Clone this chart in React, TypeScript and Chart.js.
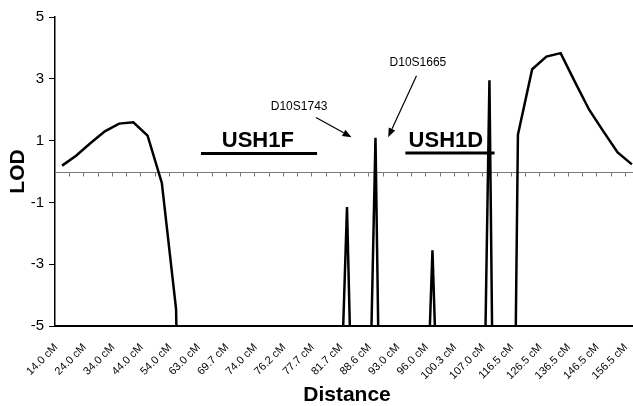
import React, { useEffect, useRef } from "react";
import { Chart, registerables } from "chart.js";

Chart.register(...registerables);

// Category labels (every other position carries a label)
const categories: string[] = [
  "14.0 cM", "", "24.0 cM", "", "34.0 cM", "", "44.0 cM", "", "54.0 cM", "",
  "63.0 cM", "", "69.7 cM", "", "74.0 cM", "", "76.2 cM", "", "77.7 cM", "",
  "81.7 cM", "", "88.6 cM", "", "93.0 cM", "", "96.0 cM", "", "100.3 cM", "",
  "107.0 cM", "", "116.5 cM", "", "126.5 cM", "", "136.5 cM", "", "146.5 cM", "",
  "156.5 cM",
];

// LOD scores (values below -5 are off-scale and clipped)
const lodValues: number[] = [
  0.19, 0.52, 0.92, 1.3, 1.55, 1.59, 1.16, -0.37, -4.45, -30,
  -20, -20, -20, -20, -20, -20, -20, -20, -20, -15.6,
  -1.15, -20.6, 1.09, -31, -20, -16, -2.55, -17, -20, -26,
  2.95, -40, 1.19, 3.31, 3.72, 3.83, 2.9, 2.0, 1.3, 0.62,
  0.23,
];

const yMin = -5;
const yMax = 5;
const yStep = 2;

// Region annotations (category index / LOD coordinates)
const regionNames = ["USH1F", "USH1D"];
const regionFrom = [9.75, 24.1];
const regionTo = [17.9, 30.36];
const regionBarLod = [0.58, 0.6];
const regionTextAt = [13.74, 26.94];
const regionTextLod = [0.78, 0.78];

// Marker annotations
const markerNames = ["D10S1743", "D10S1665"];
const markerTextAt = [16.64, 24.98];
const markerTextLod = [2.0, 3.4];
const arrowFromAt = [17.82, 24.88];
const arrowFromLod = [1.75, 3.1];
const arrowToAt = [20.32, 22.89];
const arrowToLod = [1.11, 1.11];

const FONT = "'Liberation Sans', Arial, Helvetica, sans-serif";

const zeroLinePlugin = {
  id: "zeroLine",
  beforeDatasetsDraw(chart: any) {
    const { ctx, chartArea, scales } = chart;
    const x = scales.x;
    const y = scales.y;
    const y0 = Math.round(y.getPixelForValue(0)) + 0.5;
    ctx.save();
    ctx.strokeStyle = "#7a7a7a";
    ctx.lineWidth = 1;
    ctx.beginPath();
    ctx.moveTo(chartArea.left, y0);
    ctx.lineTo(chartArea.right, y0);
    for (let i = 0; i <= categories.length; i++) {
      const px = Math.round(x.getPixelForValue(i - 0.5)) + 0.5;
      ctx.moveTo(px, y0);
      ctx.lineTo(px, y0 + 4);
    }
    ctx.stroke();
    ctx.restore();
  },
};

const annotationPlugin = {
  id: "annots",
  afterDatasetsDraw(chart: any) {
    const { ctx, scales } = chart;
    const x = scales.x;
    const y = scales.y;
    ctx.save();
    ctx.fillStyle = "#000";
    ctx.strokeStyle = "#000";
    // regions
    for (let i = 0; i < regionNames.length; i++) {
      const yb = y.getPixelForValue(regionBarLod[i]);
      ctx.lineWidth = 3;
      ctx.beginPath();
      ctx.moveTo(x.getPixelForValue(regionFrom[i]), yb);
      ctx.lineTo(x.getPixelForValue(regionTo[i]), yb);
      ctx.stroke();
      ctx.font = `bold 22px ${FONT}`;
      ctx.textAlign = "center";
      ctx.textBaseline = "alphabetic";
      ctx.fillText(regionNames[i], x.getPixelForValue(regionTextAt[i]), y.getPixelForValue(regionTextLod[i]));
    }
    // markers
    for (let i = 0; i < markerNames.length; i++) {
      ctx.font = `12px ${FONT}`;
      ctx.textAlign = "center";
      ctx.textBaseline = "alphabetic";
      ctx.fillText(markerNames[i], x.getPixelForValue(markerTextAt[i]), y.getPixelForValue(markerTextLod[i]));
      const x1 = x.getPixelForValue(arrowFromAt[i]);
      const y1 = y.getPixelForValue(arrowFromLod[i]);
      const x2 = x.getPixelForValue(arrowToAt[i]);
      const y2 = y.getPixelForValue(arrowToLod[i]);
      const ang = Math.atan2(y2 - y1, x2 - x1);
      const headLen = 9;
      const headW = 3.5;
      const bx = x2 - headLen * Math.cos(ang);
      const by = y2 - headLen * Math.sin(ang);
      ctx.lineWidth = 1.2;
      ctx.beginPath();
      ctx.moveTo(x1, y1);
      ctx.lineTo(bx, by);
      ctx.stroke();
      ctx.beginPath();
      ctx.moveTo(x2, y2);
      ctx.lineTo(bx + headW * Math.sin(ang), by - headW * Math.cos(ang));
      ctx.lineTo(bx - headW * Math.sin(ang), by + headW * Math.cos(ang));
      ctx.closePath();
      ctx.fill();
    }
    ctx.restore();
  },
};

export default function App() {
  const ref = useRef<HTMLCanvasElement | null>(null);

  useEffect(() => {
    if (!ref.current) return;
    const chart = new Chart(ref.current, {
      type: "line",
      data: {
        labels: categories,
        datasets: [
          {
            label: "LOD",
            data: lodValues,
            borderColor: "#000",
            borderWidth: 2.5,
            pointRadius: 0,
            tension: 0,
            fill: false,
          },
        ],
      },
      options: {
        animation: false,
        responsive: false,
        devicePixelRatio: 1,
        layout: { padding: { top: 17, left: 0, right: 0, bottom: 0 } },
        plugins: {
          legend: { display: false },
          tooltip: { enabled: false },
        },
        scales: {
          x: {
            type: "category",
            offset: true,
            grid: { display: false },
            border: { display: true, color: "#000", width: 2 },
            ticks: {
              autoSkip: false,
              minRotation: 45,
              maxRotation: 45,
              padding: 7,
              labelOffset: -6,
              color: "#000",
              font: { family: FONT, size: 11 },
            },
            title: {
              display: true,
              text: "Distance",
              color: "#000",
              font: { family: FONT, size: 21, weight: "bold", lineHeight: 1 },
              padding: { top: 0, bottom: 0 },
            },
            afterFit(scale: any) {
              scale.height = 80;
              scale.paddingRight = 0;
            },
          },
          y: {
            min: yMin,
            max: yMax,
            ticks: {
              stepSize: yStep,
              color: "#000",
              padding: 5,
              font: { family: FONT, size: 15 },
            },
            grid: {
              drawOnChartArea: false,
              drawTicks: true,
              tickLength: 6,
              color: "#000",
            },
            border: { display: true, color: "#000", width: 1.5 },
            title: {
              display: true,
              text: "LOD",
              color: "#000",
              font: { family: FONT, size: 21, weight: "bold", lineHeight: 1.2 },
              padding: { top: 6, bottom: 4 },
            },
            afterFit(scale: any) {
              scale.width = 55;
            },
          },
        },
      },
      plugins: [zeroLinePlugin, annotationPlugin],
    });
    return () => chart.destroy();
  }, []);

  return (
    <div
      style={{
        position: "fixed",
        left: 0,
        top: 0,
        width: 633,
        height: 406,
        overflow: "hidden",
        background: "#fff",
      }}
    >
      <canvas ref={ref} width={639} height={406} style={{ display: "block" }} />
    </div>
  );
}
